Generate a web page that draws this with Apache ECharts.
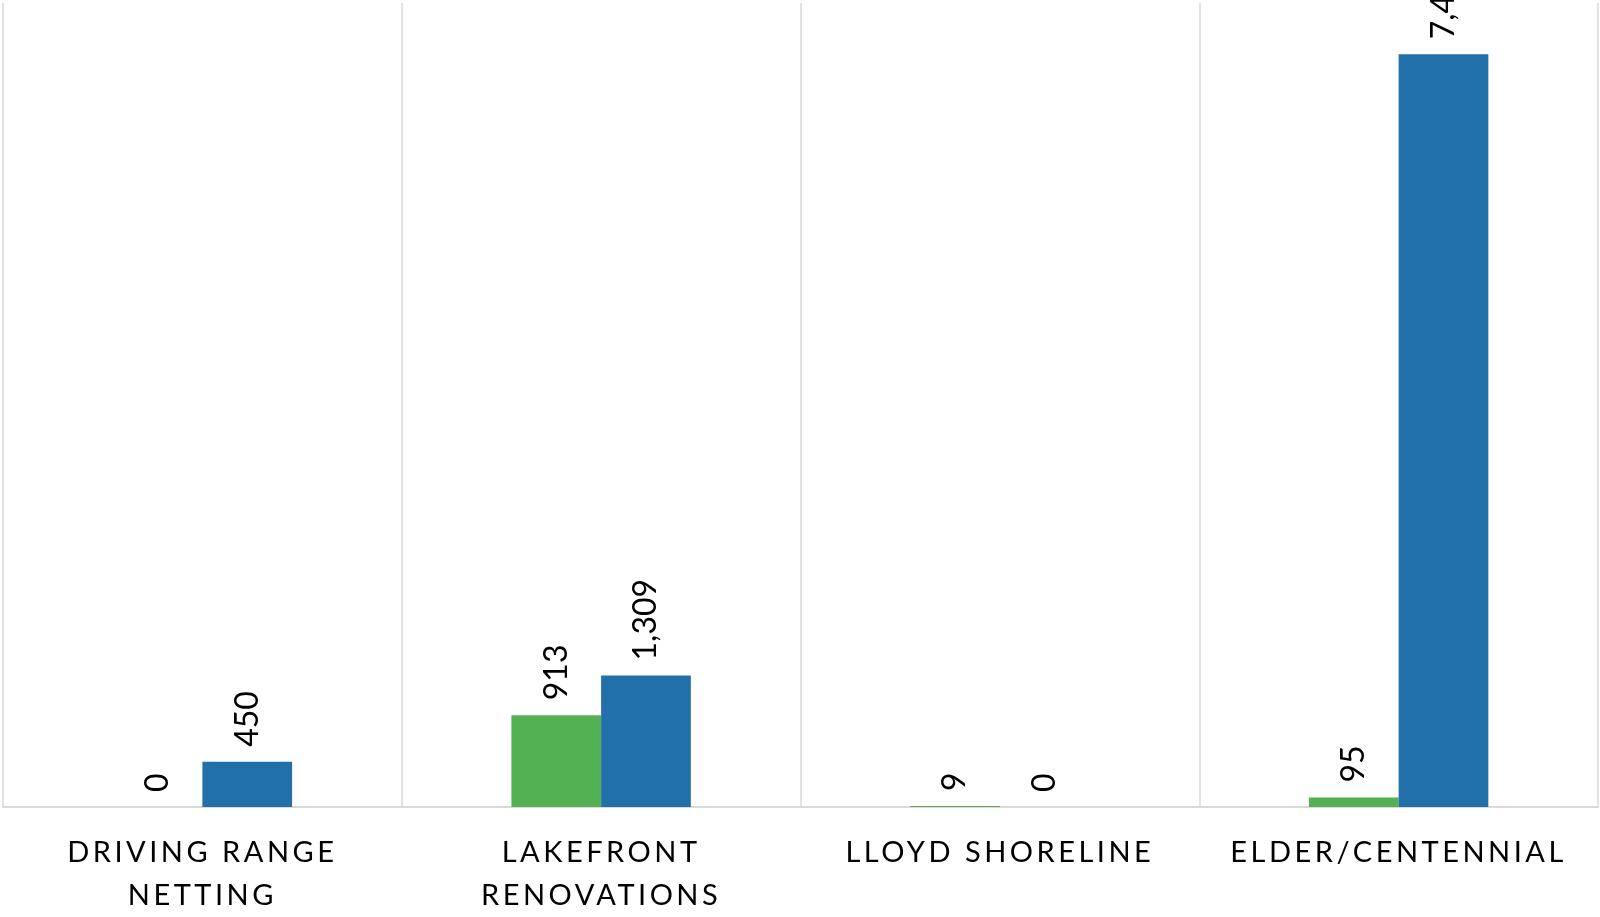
<!DOCTYPE html>
<html>
<head>
<meta charset="utf-8">
<script src="https://cdn.jsdelivr.net/npm/echarts@6/dist/echarts.min.js"></script>
<style>
html,body{margin:0;padding:0;background:#fff;}
#chart{width:1600px;height:917px;}
</style>
</head>
<body>
<div id="chart"></div>
<script>
const categories = ["DRIVING RANGE\nNETTING", "LAKEFRONT\nRENOVATIONS", "LLOYD SHORELINE", "ELDER/CENTENNIAL"];
const greenValues = [0, 913, 9, 95];
const blueValues = [450, 1309, 0, 7490];

// letter spacing for category labels (canvas feature)
(function(){
  const proto = CanvasRenderingContext2D.prototype;
  const origFill = proto.fillText;
  proto.fillText = function(t, x, y, m){
    if ('letterSpacing' in this) {
      this.letterSpacing = (this.font.indexOf('29px') >= 0) ? '3.5px' : '0px';
    }
    return m === undefined ? origFill.call(this, t, x, y) : origFill.call(this, t, x, y, m);
  };
})();

const chart = echarts.init(document.getElementById('chart'), null, {renderer: 'canvas'});
const labelCfg = {
  show: true,
  position: 'top',
  rotate: 90,
  align: 'left',
  verticalAlign: 'middle',
  distance: 15,
  fontFamily: 'Lato',
  fontSize: 32,
  color: '#000',
  formatter: p => p.value.toLocaleString('en-US')
};
chart.setOption({
  animation: false,
  grid: {left: 3, right: 2, top: 3, bottom: 104, containLabel: false},
  xAxis: {
    type: 'category',
    data: categories,
    axisTick: {show: false},
    axisLine: {show: true, lineStyle: {color: '#d9d9d9', width: 2}},
    splitLine: {show: true, lineStyle: {color: '#d9d9d9', width: 1.5}},
    axisLabel: {
      interval: 0,
      margin: 24,
      fontFamily: 'Lato',
      fontSize: 29,
      lineHeight: 43,
      color: '#000'
    }
  },
  yAxis: {
    type: 'value',
    min: 0,
    max: 8000,
    show: false,
    splitLine: {show: false}
  },
  series: [
    {
      name: 'Series 1',
      type: 'bar',
      data: greenValues,
      barGap: '0%',
      barCategoryGap: '55%',
      itemStyle: {color: '#54b153'},
      label: labelCfg
    },
    {
      name: 'Series 2',
      type: 'bar',
      data: blueValues,
      barGap: '0%',
      barCategoryGap: '55%',
      itemStyle: {color: '#2170aa'},
      label: labelCfg
    }
  ]
});
</script>
</body>
</html>
